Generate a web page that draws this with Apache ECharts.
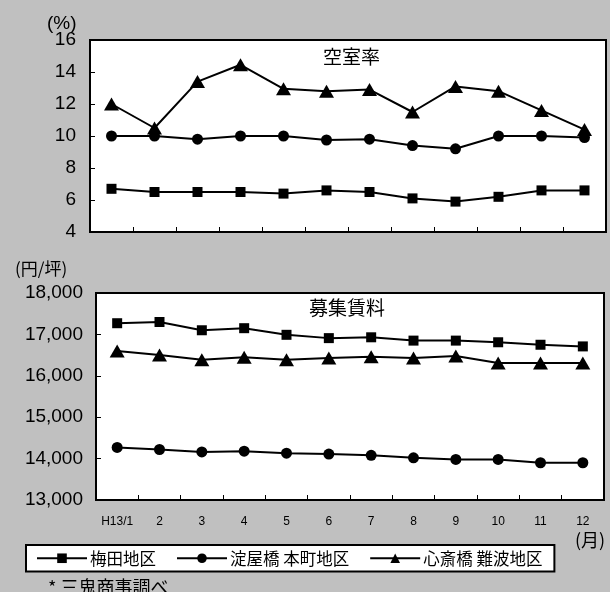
<!DOCTYPE html>
<html>
<head>
<meta charset="utf-8">
<script src="https://cdn.jsdelivr.net/npm/echarts@6/dist/echarts.min.js"></script>
<style>
  html, body { margin: 0; padding: 0; background: #c0c0c0; }
  #chart { width: 610px; height: 592px; }
</style>
</head>
<body>
<div id="chart"></div>
<script>
// Months (category axis shared by both panels)
const months = ['H13/1', '2', '3', '4', '5', '6', '7', '8', '9', '10', '11', '12'];

// Series names
const nameUmeda = '梅田地区';
const nameYodoya = '淀屋橋 本町地区';
const nameShinsai = '心斎橋 難波地区';

// Vacancy rate (%)
const vacUmeda   = [6.7, 6.5, 6.5, 6.5, 6.4, 6.6, 6.5, 6.1, 5.9, 6.2, 6.6, 6.6];
const vacYodoya  = [10.0, 10.0, 9.8, 10.0, 10.0, 9.75, 9.8, 9.4, 9.2, 10.0, 10.0, 9.9];
const vacShinsai = [12.0, 10.5, 13.4, 14.45, 12.95, 12.8, 12.9, 11.5, 13.1, 12.8, 11.6, 10.4];

// Asking rent (yen per tsubo)
const rentUmeda   = [17270, 17300, 17100, 17150, 16990, 16910, 16930, 16850, 16850, 16810, 16750, 16710];
const rentYodoya  = [14270, 14220, 14160, 14180, 14130, 14110, 14080, 14020, 13980, 13980, 13900, 13900];
const rentShinsai = [16600, 16500, 16390, 16450, 16390, 16430, 16460, 16430, 16480, 16310, 16310, 16310];

// Axis tick settings
const vacMin = 4, vacMax = 16, vacStep = 2;
const rentMin = 13000, rentMax = 18000, rentStep = 1000;

const latin = '"Liberation Sans", Arial, sans-serif';
const cjk = '"Noto Sans CJK JP", "Liberation Sans", sans-serif';

const markers = {
  [nameUmeda]:   { symbol: 'rect', size: 10 },
  [nameYodoya]:  { symbol: 'circle', size: 11 },
  [nameShinsai]: { symbol: 'triangle', size: [15, 13] }
};

function lineSeries(name, data, axisIndex) {
  return {
    name: name,
    type: 'line',
    xAxisIndex: axisIndex,
    yAxisIndex: axisIndex,
    data: data,
    symbol: markers[name].symbol,
    symbolSize: markers[name].size,
    showAllSymbol: true,
    animation: false,
    lineStyle: { color: '#000', width: 2 },
    itemStyle: { color: '#000', borderColor: '#000', borderWidth: 0 },
    emphasis: { disabled: true }
  };
}

const blackAxis = { show: true, lineStyle: { color: '#000', width: 2 } };
const innerTick = { show: true, inside: true, length: 5, lineStyle: { color: '#000', width: 1 } };

const chart = echarts.init(document.getElementById('chart'), null, { renderer: 'canvas' });
chart.setOption({
  backgroundColor: '#c0c0c0',
  animation: false,
  grid: [
    { left: 90, top: 40, width: 516, height: 192, show: true, backgroundColor: '#fff', borderColor: '#000', borderWidth: 2 },
    { left: 96, top: 293, width: 508, height: 207, show: true, backgroundColor: '#fff', borderColor: '#000', borderWidth: 2 }
  ],
  xAxis: [
    {
      gridIndex: 0, type: 'category', data: months, boundaryGap: true,
      axisLine: blackAxis, axisTick: innerTick,
      axisLabel: { show: false }
    },
    {
      gridIndex: 1, type: 'category', data: months, boundaryGap: true,
      axisLine: blackAxis, axisTick: innerTick,
      axisLabel: { show: true, color: '#000', fontFamily: latin, fontSize: 12, margin: 16 }
    }
  ],
  yAxis: [
    {
      gridIndex: 0, type: 'value', min: vacMin, max: vacMax, interval: vacStep,
      axisLine: blackAxis, axisTick: innerTick,
      splitLine: { show: false },
      axisLabel: { color: '#000', fontFamily: latin, fontSize: 19, margin: 14 }
    },
    {
      gridIndex: 1, type: 'value', min: rentMin, max: rentMax, interval: rentStep,
      axisLine: blackAxis, axisTick: innerTick,
      splitLine: { show: false },
      axisLabel: {
        color: '#000', fontFamily: latin, fontSize: 19, margin: 13,
        formatter: v => v.toLocaleString('en-US')
      }
    }
  ],
  legend: {
    data: [nameUmeda, nameYodoya, nameShinsai],
    left: 26, top: 545,
    orient: 'horizontal',
    itemWidth: 50, itemHeight: 12, itemGap: 20,
    padding: [5, 12, 5, 10],
    backgroundColor: '#fff',
    borderColor: '#000', borderWidth: 2, borderRadius: 0,
    selectedMode: false,
    textStyle: { color: '#000', fontFamily: cjk, fontSize: 16.5, padding: [0, 0, 0, -2] }
  },
  graphic: [
    { type: 'text', left: 47, top: 14, style: { text: '(%)', font: '19px ' + latin, fill: '#000' } },
    { type: 'text', left: 15, top: 260, style: { text: '(円/坪)', font: '17px ' + cjk, fill: '#000' } },
    { type: 'text', left: 323, top: 47, style: { text: '空室率', font: '19px ' + cjk, fill: '#000' } },
    { type: 'text', left: 309, top: 298, style: { text: '募集賃料', font: '19px ' + cjk, fill: '#000' } },
    { type: 'text', left: 575, top: 531, style: { text: '(月)', font: '18px ' + cjk, fill: '#000' } },
    { type: 'text', left: 48, top: 578, style: { text: '* 三鬼商事調べ', font: '18px ' + cjk, fill: '#000' } }
  ],
  series: [
    lineSeries(nameUmeda, vacUmeda, 0),
    lineSeries(nameYodoya, vacYodoya, 0),
    lineSeries(nameShinsai, vacShinsai, 0),
    lineSeries(nameUmeda, rentUmeda, 1),
    lineSeries(nameYodoya, rentYodoya, 1),
    lineSeries(nameShinsai, rentShinsai, 1)
  ]
});
</script>
</body>
</html>
